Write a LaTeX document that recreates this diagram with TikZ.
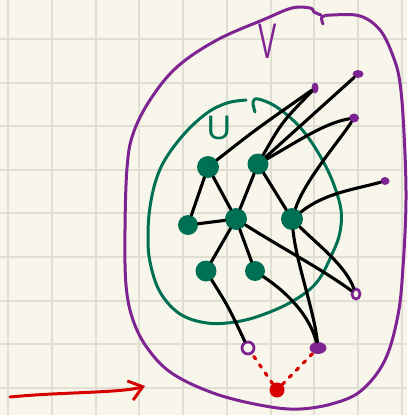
\documentclass[tikz,border=0pt]{standalone}
\usepackage{fontspec}
\setmainfont{Liberation Sans}
\usetikzlibrary{shapes.geometric,arrows.meta}
\definecolor{paper}{RGB}{248,246,234}
\definecolor{gridc}{RGB}{223,222,210}
\definecolor{ugreen}{RGB}{0,112,84}
\definecolor{vpurple}{RGB}{126,36,146}
\definecolor{redc}{RGB}{214,0,0}
\begin{document}
\begin{tikzpicture}[x=1pt,y=-1pt,
 gnode/.style={circle,fill=ugreen,minimum size=21pt,inner sep=0pt},
 pdot/.style={ellipse,fill=vpurple,inner sep=0pt},
 pring/.style={ellipse,draw=vpurple,line width=2.8pt,fill=paper,inner sep=0pt},
 rnode/.style={circle,fill=redc,minimum size=15pt,inner sep=0pt},
 edge/.style={line width=3.1pt,black,line cap=round,line join=round},
 outline/.style={line width=3pt,line cap=round,line join=round},
 reddot/.style={redc,line width=3.2pt,dash pattern=on 3pt off 7pt,line cap=round},
 gridline/.style={gridc,line width=1.6pt}]

\fill[paper] (0,0) rectangle (407,415);
\useasboundingbox (0,0) rectangle (407,415);
\foreach \x in {8,52,96,139,183,227,271,314,358,402} \draw[gridline] (\x,0) -- (\x,415);
\foreach \y in {39,83,126,170,213,257,301,344,388} \draw[gridline] (0,\y) -- (407,\y);

% outer set V
\draw[vpurple,outline] plot[smooth,tension=0.6] coordinates {(323,24) (322,17) (332,15) (360,16) (380,30) (393,56) (400,83) (404,133) (406,200) (403,267) (398,315) (385,360) (362,390) (335,403) (300,409) (265,406) (216,394) (173,374) (148,349) (133,320) (126,285) (125,230) (127,168) (133,134) (150,100) (177,67) (217,40) (265,19) (292,8) (310,8) (314,12) (321,15)};
\node[text=vpurple,font=\fontsize{50}{52}\selectfont] (vlabel) at (268,41) {\scalebox{0.55}[1]{V}};

% inner set U
\draw[ugreen,outline] plot[smooth,tension=0.6] coordinates {(255,112) (253,102) (258,99) (275,106) (295,122) (310,140) (324,163) (334,185) (341,210) (340,232) (333,252) (317,282) (293,301) (262,315) (235,322) (207,323) (180,314) (160,292) (150,262) (148,235) (150,207) (156,180) (166,158) (185,133) (207,113) (227,103) (246,100)};
\node[text=ugreen,font=\fontsize{34}{36}\selectfont] (ulabel) at (219,128) {U};

% vertices of U
\node[gnode,minimum size=22pt] (A) at (208,167) {};
\node[gnode] (B) at (258,164) {};
\node[gnode,minimum size=20pt] (C) at (188,225) {};
\node[gnode,minimum size=22pt] (D) at (236,219) {};
\node[gnode,minimum size=22pt] (E) at (292,219) {};
\node[gnode,minimum size=21pt] (F) at (206,271) {};
\node[gnode,minimum size=20pt] (G) at (255,271) {};

% vertices of V
\node[pdot,minimum width=7pt,minimum height=11pt] (P1) at (315,88) {};
\node[pdot,minimum width=11pt,minimum height=8pt] (P2) at (358,74) {};
\node[pdot,minimum width=10pt,minimum height=9pt] (P3) at (354,118) {};
\node[pdot,minimum width=9pt,minimum height=8pt] (P4) at (385,181) {};
\node[pring,minimum width=8pt,minimum height=10pt] (P5) at (356,294) {};
\node[pring,minimum width=12pt,minimum height=12pt] (P6) at (248,348) {};
\node[pdot,minimum width=17pt,minimum height=12pt] (P7) at (318,348) {};
\node[rnode] (R) at (277,390) {};

% edges
\draw[edge] (A) -- (C);
\draw[edge] (A) -- (D);
\draw[edge] (C) -- (D);
\draw[edge] (A) .. controls (255,130) .. (P1);
\draw[edge] (B) .. controls (282,122) .. (P1);
\draw[edge] (B) -- (P2);
\draw[edge] (B) .. controls (300,140) and (325,123) .. (P3);
\draw[edge] (P3) .. controls (340,140) and (305,180) .. (E);
\draw[edge] (E) .. controls (325,193) and (352,190) .. (P4);
\draw[edge] (B) -- (D);
\draw[edge] (B) -- (E);
\draw[edge] (D) -- (F);
\draw[edge] (D) -- (G);
\draw[edge] (D) .. controls (285,250) and (320,268) .. (P5);
\draw[edge] (E) .. controls (318,245) and (345,265) .. (P5);
\draw[edge] (E) .. controls (296,262) and (314,310) .. (P7);
\draw[edge] (G) .. controls (292,296) and (310,318) .. (P7);
\draw[edge] (F) .. controls (228,306) .. (P6);

% red dashed links
\draw[reddot] (R) -- (P6);
\draw[reddot] (R) -- (P7);

% red arrow
\coordinate (as) at (10,397);
\coordinate (ae) at (145,386);
\draw[redc,line width=3pt,line cap=round,-{Straight Barb[length=13pt,width=20pt,line width=3pt]}] (as) .. controls (60,392) and (122,393) .. (ae);
\end{tikzpicture}
\end{document}
